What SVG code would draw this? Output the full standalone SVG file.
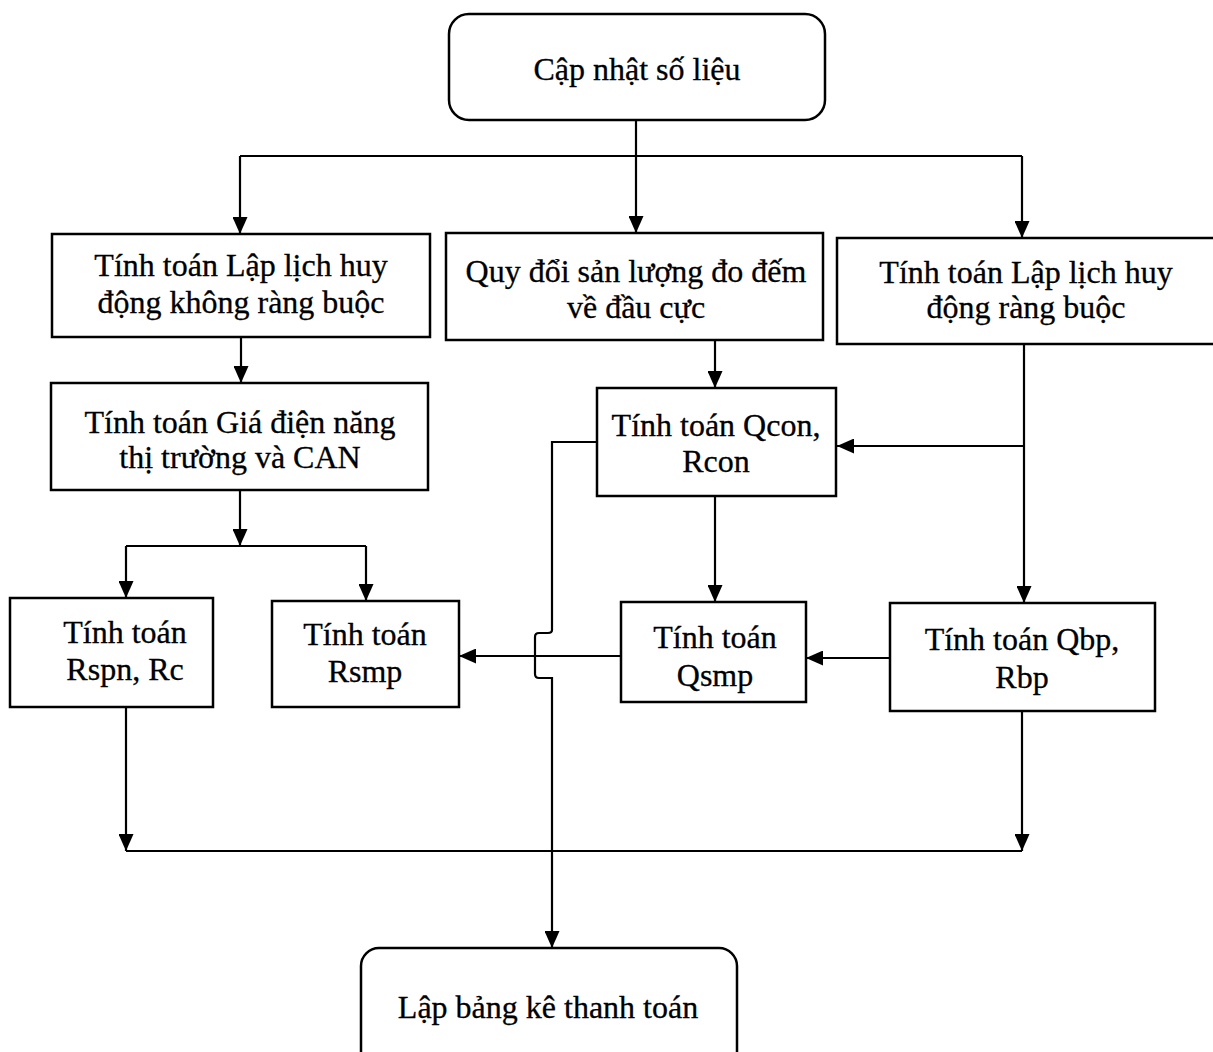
<svg xmlns="http://www.w3.org/2000/svg" width="1213" height="1052" viewBox="0 0 1213 1052">
<style>
.box{fill:#fff;stroke:#000;stroke-width:2.5}
.ln{fill:none;stroke:#000;stroke-width:2.2}
text{font-family:"Liberation Serif","Times New Roman",serif;font-size:32px;fill:#000;stroke:#000;stroke-width:0.3;text-anchor:middle}
</style>
<defs>
<marker id="ah" viewBox="0 0 10 10" refX="10" refY="5" markerWidth="17" markerHeight="15" markerUnits="userSpaceOnUse" orient="auto" preserveAspectRatio="none">
<path d="M0,0 L10,5 L0,10 z" fill="#000"/>
</marker>
</defs>
<rect width="1213" height="1052" fill="#fff"/>
<g id="connectors">
<path class="ln" d="M636,120 V233" marker-end="url(#ah)"/>
<path class="ln" d="M240,156 H1022"/>
<path class="ln" d="M240,156 V234" marker-end="url(#ah)"/>
<path class="ln" d="M1022,156 V238" marker-end="url(#ah)"/>
<path class="ln" d="M241,337 V383" marker-end="url(#ah)"/>
<path class="ln" d="M240,490 V546" marker-end="url(#ah)"/>
<path class="ln" d="M126,546 H366"/>
<path class="ln" d="M126,546 V598" marker-end="url(#ah)"/>
<path class="ln" d="M366,546 V601" marker-end="url(#ah)"/>
<path class="ln" d="M715,340 V388" marker-end="url(#ah)"/>
<path class="ln" d="M715,496 V602" marker-end="url(#ah)"/>
<path class="ln" d="M1024,344 V603" marker-end="url(#ah)"/>
<path class="ln" d="M1024,446 H837" marker-end="url(#ah)"/>
<path class="ln" d="M890,658 H806" marker-end="url(#ah)"/>
<path class="ln" d="M621,656 H459" marker-end="url(#ah)"/>
<path class="ln" d="M126,707 V851" marker-end="url(#ah)"/>
<path class="ln" d="M1022,711 V851" marker-end="url(#ah)"/>
<path class="ln" d="M126,851 H1022"/>
<path class="ln" d="M597,442 H552 V630 Q552,633 548,633 H539 Q535,633 535,637 V674 Q535,678 539,678 H552 V948" marker-end="url(#ah)"/>
</g>
<g id="n-capnhat">
<rect class="box" x="449" y="14" width="376" height="106" rx="20"/>
<text x="637" y="80">Cập nhật số liệu</text>
</g>
<g id="n-llkrb">
<rect class="box" x="52" y="234" width="378" height="103"/>
<text x="241" y="276">Tính toán Lập lịch huy</text>
<text x="241" y="313">động không ràng buộc</text>
</g>
<g id="n-quydoi">
<rect class="box" x="446" y="233" width="377" height="107"/>
<text x="636" y="282">Quy đổi sản lượng đo đếm</text>
<text x="636" y="318">về đầu cực</text>
</g>
<g id="n-llrb">
<rect class="box" x="837" y="238" width="390" height="106"/>
<text x="1026" y="283">Tính toán Lập lịch huy</text>
<text x="1026" y="318">động ràng buộc</text>
</g>
<g id="n-gia">
<rect class="box" x="51" y="383" width="377" height="107"/>
<text x="240" y="433">Tính toán Giá điện năng</text>
<text x="240" y="468">thị trường và CAN</text>
</g>
<g id="n-qcon">
<rect class="box" x="597" y="388" width="239" height="108"/>
<text x="716" y="436">Tính toán Qcon,</text>
<text x="716" y="472">Rcon</text>
</g>
<g id="n-rspn">
<rect class="box" x="10" y="598" width="203" height="109"/>
<text x="125" y="643">Tính toán</text>
<text x="125" y="680">Rspn, Rc</text>
</g>
<g id="n-rsmp">
<rect class="box" x="272" y="601" width="187" height="106"/>
<text x="365" y="645">Tính toán</text>
<text x="365" y="682">Rsmp</text>
</g>
<g id="n-qsmp">
<rect class="box" x="621" y="602" width="185" height="100"/>
<text x="715" y="648">Tính toán</text>
<text x="715" y="686">Qsmp</text>
</g>
<g id="n-qbp">
<rect class="box" x="890" y="603" width="265" height="108"/>
<text x="1022" y="650">Tính toán Qbp,</text>
<text x="1022" y="688">Rbp</text>
</g>
<g id="n-lapbang">
<rect class="box" x="361" y="948" width="376" height="130" rx="18"/>
<text x="548" y="1018">Lập bảng kê thanh toán</text>
</g>
</svg>
